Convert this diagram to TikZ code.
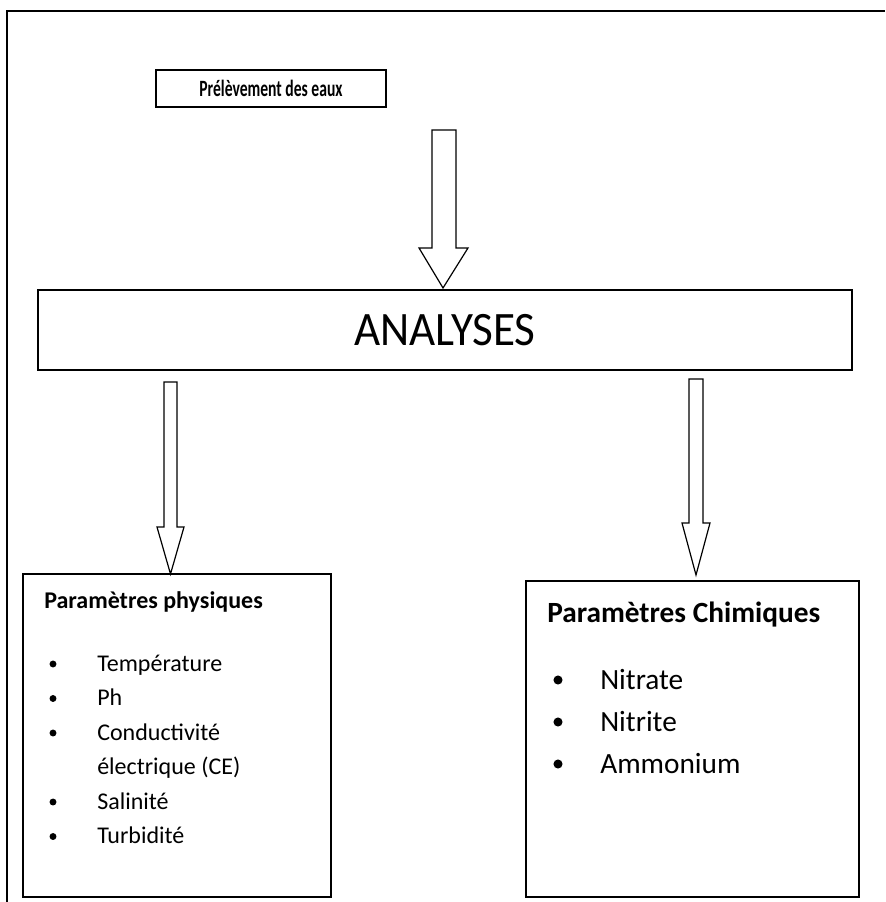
\documentclass[tikz,border=0pt]{standalone}
\usepackage{graphicx}
\usepackage{fontspec}
\setmainfont{Carlito}
\usetikzlibrary{positioning}

\begin{document}
\begin{tikzpicture}[x=0.75pt,y=-0.75pt]
\tikzstyle{frame}=[draw=black, line width=1pt]
\tikzstyle{box}=[rectangle, draw=black, line width=1pt, inner sep=0pt]
\tikzstyle{barrow}=[draw=black, line width=0.9pt, fill=white, line join=miter]
\tikzstyle{ttl}=[anchor=base west, inner sep=0pt]
\tikzstyle{itm}=[anchor=base west, inner sep=0pt]
\useasboundingbox (0,0) rectangle (885,902);
\draw[frame] (7,902) -- (7,11) -- (885,11);
% boxes
\node (prel) [box, minimum width=172.5pt, minimum height=27.75pt, font=\bfseries\fontsize{17.5}{19}\selectfont] at (271,88.5) {\scalebox{0.67}[1]{Prélèvement des eaux}};
\node (ana) [box, minimum width=610.5pt, minimum height=60pt, font=\fontsize{36}{40}\selectfont] at (445,330) {\scalebox{0.94}[1]{ANALYSES}};
\node (phy) [box, minimum width=231pt, minimum height=242.25pt] at (177,735.5) {};
\node (chi) [box, minimum width=249.75pt, minimum height=237pt] at (692.5,739) {};
% block arrows
\draw[barrow] (432,130) -- (456,130) -- (456,248) -- (468,248) -- (443,288) -- (419,248) -- (432,248) -- cycle;
\draw[barrow] (164,382) -- (177,382) -- (177,527) -- (184,527) -- (170.5,574) -- (157,527) -- (164,527) -- cycle;
\draw[barrow] (689,379) -- (703,379) -- (703,523) -- (710,523) -- (696,575) -- (682,523) -- (689,523) -- cycle;
% physical parameters
\node (phyt) [ttl, font=\bfseries\fontsize{18}{20}\selectfont] at (44,608) {Paramètres physiques};
\foreach \y/\t [count=\i] in {671/Température, 705.5/Ph, 740/Conductivité, 809/Salinité, 843.5/Turbidité}
{
\fill (53,\y-7) circle (2.6pt);
\node (phy\i) [itm, font=\fontsize{18}{20}\selectfont] at (97,\y) {\t};
}
\node (phyce) [itm, font=\fontsize{18}{20}\selectfont] at (97,774.5) {électrique (CE)};
% chemical parameters
\node (chit) [ttl, font=\bfseries\fontsize{22}{24}\selectfont] at (547,622) {Paramètres Chimiques};
\foreach \y/\t [count=\i] in {689/Nitrate, 731/Nitrite, 773/Ammonium}
{
\fill (558,\y-9) circle (3.4pt);
\node (chi\i) [itm, font=\fontsize{22}{24}\selectfont] at (600,\y) {\t};
}
\end{tikzpicture}
\end{document}
